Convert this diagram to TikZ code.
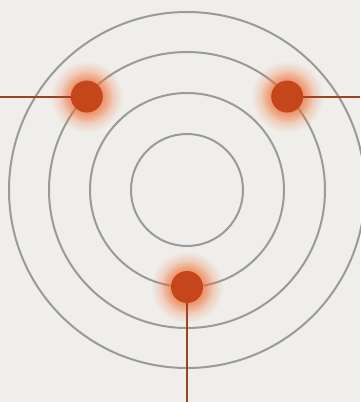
\documentclass[tikz,border=0pt]{standalone}
\usetikzlibrary{fadings}
\definecolor{paper}{HTML}{EFEEEA}
\definecolor{ring}{HTML}{9A9A98}
\definecolor{ember}{HTML}{C4461A}
\definecolor{flare}{HTML}{F06A30}
\definecolor{wire}{HTML}{9E4420}
\tikzfading[name=halo,inner color=transparent!0,outer color=transparent!100]

\begin{document}
\begin{tikzpicture}[x=1pt,y=1pt,
  orbit/.style={draw=ring,line width=2pt},
  glow/.style={fill=flare,path fading=halo,opacity=0.9},
  dot/.style={circle,fill=ember,minimum size=32pt,inner sep=0pt},
  lead/.style={draw=wire,line width=2pt}]
\fill[paper] (-187,-212) rectangle (173,190);
\useasboundingbox (-187,-212) rectangle (173,190);
\coordinate (c) at (0,0);
\foreach \r in {56,97,138,178}
  \draw[orbit] (c) circle (\r);
% glow under each dot
\foreach \p in {137:137,43:137,270:97}{
  \fill[glow] (\p) circle (36);
  \fill[glow] (\p) circle (26);
}
\node[dot] (nw) at (137:137) {};
\node[dot] (ne) at (43:137) {};
\node[dot] (s)  at (270:97) {};
\coordinate (wl) at (-187,0 |- nw);
\coordinate (er) at (173,0 |- ne);
\coordinate (sb) at (s |- 0,-212);
\draw[lead] (wl) -- (nw.west);
\draw[lead] (ne.east) -- (er);
\draw[lead] (s.south) -- (sb);
\end{tikzpicture}
\end{document}
